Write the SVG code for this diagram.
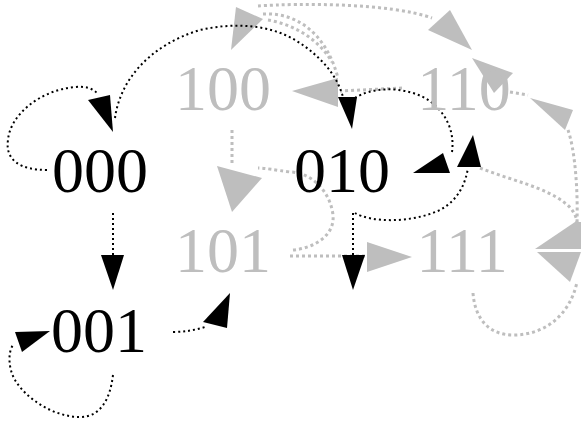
<svg xmlns="http://www.w3.org/2000/svg" width="581" height="424" viewBox="0 0 581 424">
<style>
text{font-family:"Liberation Serif","Times New Roman",serif;font-size:64px;text-anchor:middle}
.on{fill:#000}
.off{fill:#bebebe}
.eb{fill:none;stroke:#000;stroke-width:2;stroke-dasharray:2 3}
.eg{fill:none;stroke:#bebebe;stroke-width:3;stroke-dasharray:3 3}
.ab{fill:#000}
.ag{fill:#bebebe}
</style>
<rect width="581" height="424" fill="#fff"/>
<g id="connectors">
  <!-- gray edges -->
  <path class="eg" d="M232,130 L232,163"/>
  <polygon class="ag" points="217,166 262,178 232,212"/>
  <path class="eg" d="M293,250 C315,248 335,235 333,215 C330,190 310,172 290,172 C275,170 265,168 258,168"/>
  <path class="eg" d="M290,256 L367,256"/>
  <polygon class="ag" points="367,242 412,257 367,272"/>
  <polygon class="ag" points="236,7 263,19 231,50"/>
  <path class="eg" d="M258,6 C300,3 390,3 432,18"/>
  <polygon class="ag" points="450,10 428,30 472,50"/>
  <path class="eg" d="M263,14 C295,12 326,32 338,78"/>
  <path class="eg" d="M268,20 C292,24 318,38 332,62"/>
  <path class="eg" d="M402,88 L340,91"/>
  <polygon class="ag" points="338,78 292,91 338,107"/>
  <polygon class="ag" points="472,58 513,73 494,93"/>
  <path class="eg" d="M510,92 L528,95"/>
  <polygon class="ag" points="530,98 573,110 565,130"/>
  <path class="eg" d="M568,130 C575,150 578,190 577,222"/>
  <path class="eg" d="M480,168 C510,180 545,187 565,203 C572,208 576,215 577,222"/>
  <polygon class="ag" points="535,249 575,222 581,222 581,249"/>
  <polygon class="ag" points="537,252 581,252 570,282"/>
  <path class="eg" d="M473,293 C475,320 490,335 513,335 C545,335 570,315 577,282"/>
  <!-- black edges -->
  <path class="eb" d="M47,170 C20,170 5,160 8,140 C10,115 40,90 75,87 C85,86 92,88 97,93"/>
  <polygon class="ab" points="88,100 110,95 113,132"/>
  <path class="eb" d="M115,118 C120,80 150,45 200,30 C235,22 270,25 295,40 C320,55 337,75 343,97"/>
  <polygon class="ab" points="338,97 357,97 352,129"/>
  <path class="eb" d="M113,213 L113,255"/>
  <polygon class="ab" points="101,255 124,255 113,290"/>
  <path class="eb" d="M113,375 C110,400 100,417 80,417 C55,417 27,400 15,380 C8,368 8,352 13,345"/>
  <polygon class="ab" points="15,332 50,331 22,352"/>
  <path class="eb" d="M173,332 C185,332 195,330 205,327"/>
  <polygon class="ab" points="203,322 230,293 227,328"/>
  <path class="eb" d="M355,98 C370,88 400,85 425,98 C445,110 455,130 452,152"/>
  <polygon class="ab" points="413,173 443,153 450,173"/>
  <path class="eb" d="M355,213 C370,222 410,224 440,210 C458,200 465,185 468,168"/>
  <polygon class="ab" points="473,135 457,167 481,167"/>
  <path class="eb" d="M353,213 L353,255"/>
  <polygon class="ab" points="342,255 365,255 353,290"/>
</g>
<g id="n000"><text class="on" x="100" y="192">000</text></g>
<g id="n100"><text class="off" x="223" y="110">100</text></g>
<g id="n010"><text class="on" x="342" y="192">010</text></g>
<g id="n110"><text class="off" x="464" y="110">110</text></g>
<g id="n101"><text class="off" x="223" y="272">101</text></g>
<g id="n111"><text class="off" x="462" y="272">111</text></g>
<g id="n001"><text class="on" x="99" y="352">001</text></g>
</svg>
